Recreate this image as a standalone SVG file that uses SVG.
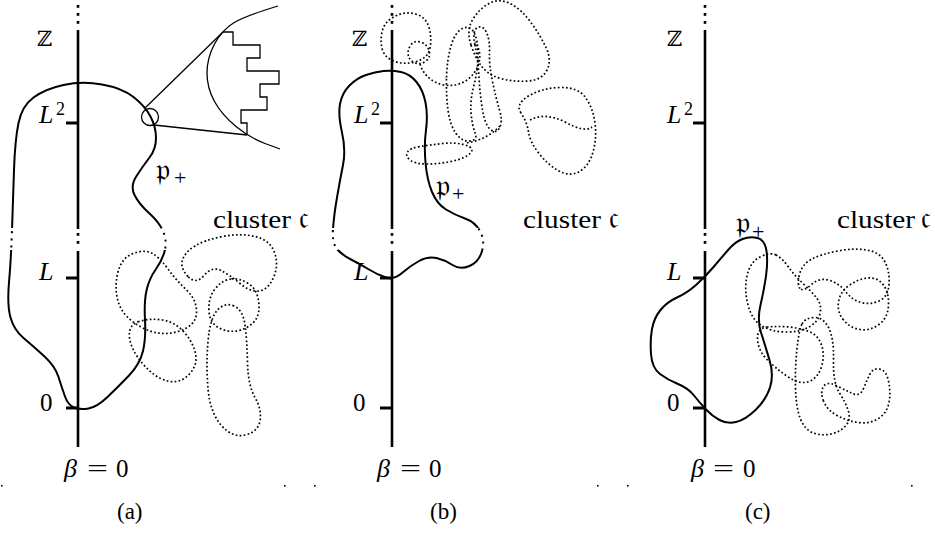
<svg xmlns="http://www.w3.org/2000/svg" width="935" height="534" viewBox="0 0 935 534">
<style>
.ax{stroke:#000;stroke-width:2.6;fill:none}
.tk{stroke:#000;stroke-width:3}
.sol{fill:none;stroke:#000;stroke-width:2}
.bd{fill:none;stroke:#000;stroke-width:2;stroke-dasharray:2 5}
.dot{fill:none;stroke:#000;stroke-width:1.7;stroke-dasharray:1.7 2.3}
.thin{fill:none;stroke:#000;stroke-width:1.3}
text{font-family:"Liberation Serif","DejaVu Serif",serif;font-size:25px;fill:#000}
.it{font-style:italic;font-size:26px}
.bb{font-family:"DejaVu Serif","DejaVu Sans",serif;font-size:21px}
.fk{font-family:"DejaVu Serif","DejaVu Sans","Noto Sans",serif;font-size:31px}
.sm{font-size:18px}
.pl{font-size:22px}
.cap{font-size:23px}
</style>
<defs>
<clipPath id="off"><rect x="0" y="0" width="935" height="228"/><rect x="0" y="250" width="935" height="290"/></clipPath>
<clipPath id="band"><rect x="0" y="228" width="935" height="22"/></clipPath>
<g id="axisT">
<line class="ax" x1="0" y1="30" x2="0" y2="229"/>
<line class="ax" x1="0" y1="251" x2="0" y2="447"/>
<rect x="-1.3" y="5" width="2.6" height="2.8"/>
<rect x="-1.3" y="13" width="2.6" height="2.8"/>
<rect x="-1.3" y="21" width="2.6" height="2.8"/>
<rect x="-1.3" y="233" width="2.6" height="2.8"/>
<rect x="-1.3" y="241" width="2.6" height="2.8"/>
<line class="tk" x1="-12" y1="123" x2="0" y2="123"/>
<line class="tk" x1="-12" y1="278" x2="0" y2="278"/>
<line class="tk" x1="-12" y1="408" x2="0" y2="408"/>
</g>
<path id="pa" d="M74,407.5 Q80,410 88.5,408.5 Q97,407 107.5,397 Q118,387 129,375.5 Q140,364 143,351 Q146,338 145,320 Q144,302 146.5,290.5 Q149,279 156,269 Q163,259 165,249.5 Q167,240 163,231 Q159,222 149,213 Q139,204 134.5,195 Q130,186 136.5,176 Q143,166 149.5,157.5 Q156,149 156,138 Q156,127 150.5,116.5 Q145,106 133.5,97 Q122,88 102,84.5 Q82,81 63.5,85 Q45,89 33.5,97.5 Q22,106 18.5,123 Q15,140 14,170 Q13,200 12,230 Q11,260 9,282.5 Q7,305 10.5,317.5 Q14,330 23.5,338 Q33,346 44,356 Q55,366 58.5,377 Q62,388 65,396.5 Q68,405 74,407.5 Z"/>
<path id="pb" d="M383.5,71 Q392,70 401,72 Q410,74 416.5,82 Q423,90 425.5,102.5 Q428,115 426,130 Q424,145 425.5,162.5 Q427,180 432,192 Q437,204 446,209.5 Q455,215 465,218.5 Q475,222 480,231 Q485,240 482,251 Q479,262 469.5,266 Q460,270 452.5,265 Q445,260 436.5,258 Q428,256 419,261 Q410,266 402,273 Q394,280 386,277.5 Q378,275 369,269.5 Q360,264 351,259.5 Q342,255 337,249 Q332,243 333,229 Q334,215 337,197.5 Q340,180 343,165 Q346,150 342,132.5 Q338,115 340,104 Q342,93 349.5,85.5 Q357,78 366,75 Q375,72 383.5,71 Z"/>
</defs>

<g id="panel-a">
<use href="#axisT" x="78"/>
<use href="#pa" class="sol" clip-path="url(#off)"/>
<use href="#pa" class="bd" clip-path="url(#band)"/>
<g id="zoom-a">
<circle class="thin" cx="150" cy="117" r="8.5"/>
<line class="thin" x1="144" y1="109" x2="223" y2="32"/>
<line class="thin" x1="154" y1="125" x2="247" y2="135"/>
<path class="thin" d="M278,6 Q245,16 233.5,23 Q222,30 214.5,44 Q207,58 207,73 Q207,88 214.5,101.5 Q222,115 236,126.5 Q250,138 265,143.5 L280,149"/>
<path class="thin" d="M223,32 H233 V45 H260 V58 H247 V71 H279 V84 H260 V97 H267 V110 H241 V123 H247 V135"/>
</g>
<g id="cluster-a">
<path class="dot" d="M152.5,253.5 Q145,249 133,253.5 Q121,258 117.5,274 Q114,290 119,304 Q124,318 142,327.5 Q160,337 178,331.5 Q196,326 196.5,313 Q197,300 186.5,290 Q176,280 168,269 Q160,258 152.5,253.5 Z"/>
<path class="dot" d="M139,321.5 Q128,325 129.5,337.5 Q131,350 143,364 Q155,378 167.5,381 Q180,384 189,374.5 Q198,365 195.5,353.5 Q193,342 184,332 Q175,322 162.5,320 Q150,318 139,321.5 Z"/>
<path class="dot" d="M188,276.5 Q180,268 182.5,260 Q185,252 195,246 Q205,240 222.5,236.5 Q240,233 255,236.5 Q270,240 274.5,252.5 Q279,265 273.5,277.5 Q268,290 259,291 Q250,292 240,283.5 Q230,275 221,270.5 Q212,266 204,275.5 Q196,285 188,276.5 Z"/>
<path class="dot" d="M231,279 Q222,280 215,289 Q208,298 209,311.5 Q210,325 222.5,329.5 Q235,334 247.5,327 Q260,320 259,305 Q258,290 249,284 Q240,278 231,279 Z"/>
<path class="dot" d="M234,306 Q225,302 217.5,310 Q210,318 208,341.5 Q206,365 208,388.5 Q210,412 221,425 Q232,438 245,435 Q258,432 260,421 Q262,410 255,397.5 Q248,385 247.5,362.5 Q247,340 245,325 Q243,310 234,306 Z"/>
</g>
<text class="bb" x="37" y="46">ℤ</text>
<text class="it" x="39" y="123">L</text><text class="sm" x="56" y="115">2</text>
<text class="it" x="39" y="280">L</text>
<text x="40" y="411">0</text>
<text class="fk" x="156" y="180">𝔭</text><text class="pl" x="174" y="185">+</text>
<text x="213" y="228"><tspan textLength="78" lengthAdjust="spacingAndGlyphs">cluster</tspan></text><text class="fk" x="299" y="228">𝔠</text>
<text class="it" x="64" y="477">β</text><text x="87" y="477" textLength="21" lengthAdjust="spacingAndGlyphs">=</text><text x="116" y="477">0</text>
<text class="cap" x="117" y="519">(a)</text>
<rect x="1" y="485" width="1.6" height="1.6"/><rect x="284" y="485" width="1.6" height="1.6"/>
</g>

<g id="panel-b">
<use href="#axisT" x="392"/>
<use href="#pb" class="sol" clip-path="url(#off)"/>
<use href="#pb" class="bd" clip-path="url(#band)"/>
<g id="cluster-b">
<path class="dot" d="M382.5,50 Q380,42 382,32 Q384,22 394.5,16.5 Q405,11 415.5,14 Q426,17 429,27.5 Q432,38 430,48 Q428,58 416.5,61.5 Q405,65 395,61.5 Q385,58 382.5,50 Z"/>
<path class="dot" d="M408.5,56 Q407,51 410.5,45.5 Q414,40 420.5,42 Q427,44 429,50.5 Q431,57 426,61 Q421,65 415.5,63 Q410,61 408.5,56 Z"/>
<path class="dot" d="M420,64 Q425,80 443,85 Q465,88 476,70 Q484,55 475,42"/>
<path class="dot" d="M471,45 Q466,30 473,19 Q480,8 490,3 Q500,-2 511,4 Q522,10 531,22.5 Q540,35 546,47.5 Q552,60 547,70 Q542,80 528.5,81 Q515,82 502.5,79 Q490,76 483,68 Q476,60 471,45 Z"/>
<path class="dot" d="M446.5,77.5 Q447,60 451,46 Q455,32 462.5,28.5 Q470,25 474,32.5 Q478,40 478,55 Q478,70 474,85 Q470,100 471,112.5 Q472,125 475,132.5 Q478,140 470,141 Q462,142 456,133.5 Q450,125 448,110 Q446,95 446.5,77.5 Z"/>
<path class="dot" d="M475,45 Q472,30 477.5,27.5 Q483,25 486.5,32.5 Q490,40 489.5,52.5 Q489,65 492.5,81.5 Q496,98 499.5,110 Q503,122 499.5,128 Q496,134 490.5,129.5 Q485,125 482.5,110 Q480,95 479,77.5 Q478,60 475,45 Z"/>
<path class="dot" d="M521,113 Q515,104 528.5,96 Q542,88 560,87.5 Q578,87 585.5,97.5 Q593,108 595,123 Q597,138 593,152 Q589,166 579.5,171.5 Q570,177 559,171 Q548,165 539,153.5 Q530,142 528.5,132 Q527,122 521,113 Z"/>
<path class="dot" d="M530,120 Q545,112 565,122 Q585,133 592,127"/>
<path class="dot" d="M500,126 Q485,141 465,143"/>
<path class="dot" d="M407.5,152 Q410,148 420,146.5 Q430,145 442.5,143.5 Q455,142 465,145 Q475,148 470.5,153 Q466,158 453,161 Q440,164 427.5,164 Q415,164 410,160 Q405,156 407.5,152 Z"/>
</g>
<text class="bb" x="352" y="46">ℤ</text>
<text class="it" x="354" y="123">L</text><text class="sm" x="371" y="115">2</text>
<text class="it" x="354" y="280">L</text>
<text x="353" y="411">0</text>
<text class="fk" x="436" y="196">𝔭</text><text class="pl" x="452" y="201">+</text>
<text x="523" y="228"><tspan textLength="78" lengthAdjust="spacingAndGlyphs">cluster</tspan></text><text class="fk" x="609" y="228">𝔠</text>
<text class="it" x="377" y="477">β</text><text x="400" y="477" textLength="21" lengthAdjust="spacingAndGlyphs">=</text><text x="429" y="477">0</text>
<text class="cap" x="430" y="519">(b)</text>
<rect x="314" y="485" width="1.6" height="1.6"/><rect x="597" y="485" width="1.6" height="1.6"/>
</g>

<g id="panel-c">
<use href="#axisT" x="705"/>
<path class="sol" d="M742.5,239 Q750,236 757.5,238 Q765,240 766.5,251 Q768,262 766,276 Q764,290 760.5,305 Q757,320 761,332.5 Q765,345 769.5,360 Q774,375 770,387.5 Q766,400 755.5,410 Q745,420 736,422 Q727,424 719.5,420 Q712,416 706,409.5 Q700,403 694,395.5 Q688,388 678,384 Q668,380 660,374 Q652,368 651,354 Q650,340 652,329 Q654,318 660.5,310 Q667,302 677,297.5 Q687,293 696,285 Q705,277 713.5,267 Q722,257 728.5,249.5 Q735,242 742.5,239 Z"/>
<g id="cluster-c">
<path class="dot" d="M776,255 Q770,252 760,257 Q750,262 747,276 Q744,290 748,305 Q752,320 762,326 Q772,332 786,332 Q800,332 809,327 Q818,322 820,313.5 Q822,305 817,298.5 Q812,292 803.5,284 Q795,276 788.5,267 Q782,258 776,255 Z"/>
<path class="dot" d="M767.5,327 Q757,328 757.5,339 Q758,350 766.5,359 Q775,368 787.5,376.5 Q800,385 809,381.5 Q818,378 821.5,366.5 Q825,355 821.5,345 Q818,335 809,331.5 Q800,328 789,327 Q778,326 767.5,327 Z"/>
<path class="dot" d="M800,288.5 Q797,285 799.5,274.5 Q802,264 812,259 Q822,254 837.5,251 Q853,248 866.5,250 Q880,252 885,262 Q890,272 889,284.5 Q888,297 879,301 Q870,305 861,302.5 Q852,300 846,292 Q840,284 830,280.5 Q820,277 811.5,284.5 Q803,292 800,288.5 Z"/>
<path class="dot" d="M843.5,320 Q837,312 838.5,302 Q840,292 849,285.5 Q858,279 867.5,278 Q877,277 883,284.5 Q889,292 888.5,305 Q888,318 879,324.5 Q870,331 860,329.5 Q850,328 843.5,320 Z"/>
<path class="dot" d="M802,324 Q805,318 814,317.5 Q823,317 828.5,327.5 Q834,338 833.5,360.5 Q833,383 839.5,393 Q846,403 848.5,411.5 Q851,420 845.5,426 Q840,432 831,434 Q822,436 813.5,433 Q805,430 800.5,419 Q796,408 795.5,387.5 Q795,367 797,348.5 Q799,330 802,324 Z"/>
<path class="dot" d="M823.5,401 Q820,392 823.5,386.5 Q827,381 836,385.5 Q845,390 852.5,393.5 Q860,397 863.5,388.5 Q867,380 870,374 Q873,368 879.5,369 Q886,370 888.5,381 Q891,392 889,402.5 Q887,413 878.5,418.5 Q870,424 858.5,422.5 Q847,421 837,415.5 Q827,410 823.5,401 Z"/>
</g>
<text class="bb" x="667" y="46">ℤ</text>
<text class="it" x="667" y="123">L</text><text class="sm" x="684" y="115">2</text>
<text class="it" x="667" y="280">L</text>
<text x="667" y="411">0</text>
<text class="fk" x="736" y="233">𝔭</text><text class="pl" x="752" y="239">+</text>
<text x="837" y="228"><tspan textLength="78" lengthAdjust="spacingAndGlyphs">cluster</tspan></text><text class="fk" x="921" y="228">𝔠</text>
<text class="it" x="691" y="477">β</text><text x="713" y="477" textLength="21" lengthAdjust="spacingAndGlyphs">=</text><text x="743" y="477">0</text>
<text class="cap" x="745" y="519">(c)</text>
<rect x="627" y="485" width="1.6" height="1.6"/><rect x="911" y="485" width="1.6" height="1.6"/>
</g>
</svg>
